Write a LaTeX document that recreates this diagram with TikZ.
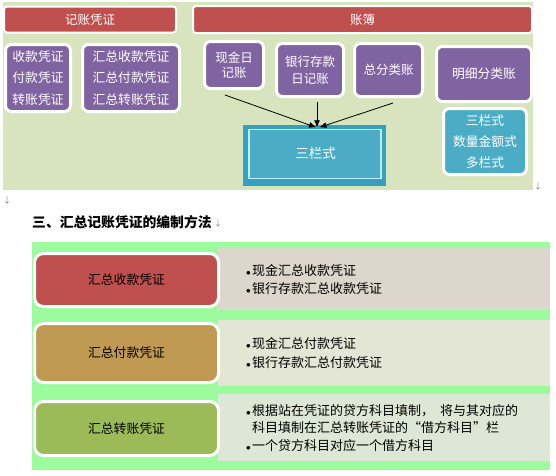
\documentclass[tikz,border=0pt]{standalone}
\usepackage{fontspec}
\setmainfont{Noto Sans CJK SC}
\usetikzlibrary{arrows.meta}
\definecolor{topbg}{HTML}{D7E4BD}
\definecolor{hred}{HTML}{C0504D}
\definecolor{purp}{HTML}{8064A2}
\definecolor{cyanb}{HTML}{4BACC6}
\definecolor{tealdk}{HTML}{36A1BE}
\definecolor{innerln}{HTML}{C4ECF3}
\definecolor{botbg}{HTML}{9CFB9C}
\definecolor{pan1}{HTML}{DDD6CC}
\definecolor{pan2}{HTML}{E3E5D5}
\definecolor{pan3}{HTML}{DDE7D5}
\definecolor{gold}{HTML}{C09A52}
\definecolor{olive}{HTML}{9BBB59}
\definecolor{markgray}{HTML}{808080}
\newcommand\bul{\makebox[6pt][l]{$\scriptstyle\bullet$}}
\begin{document}
\begin{tikzpicture}[x=1pt,y=-1pt,
  hdr/.style={draw=white,line width=2pt,fill=hred,rounded corners=3pt,text=white,inner sep=0pt,font=\fontsize{12.5}{14}\selectfont},
  pbox/.style={draw=white,line width=3pt,fill=purp,rounded corners=6pt,text=white,align=center,inner sep=0pt},
  cbox/.style={pbox,fill=cyanb},
  lbox/.style={draw=white,line width=3pt,rounded corners=9pt,text=black,inner sep=0pt,minimum width=184pt,font=\fontsize{12.8}{15}\selectfont},
  ptext/.style={anchor=base west,inner sep=0pt,font=\fontsize{13}{15}\selectfont},
  arr/.style={-{Latex[length=7pt,width=6pt]},line width=0.8pt},
  pmark/.style={text=markgray,inner sep=0pt,font=\fontsize{8}{9}\selectfont}
]
\useasboundingbox (0,0) rectangle (556,475);
% top panel
\fill[topbg] (3,2) rectangle (533,190);
\node[hdr,minimum width=172pt,minimum height=26pt] (h1) at (90,19.5) {记账凭证};
\node[hdr,minimum width=339pt,minimum height=27pt] (h2) at (362.5,19.5) {账簿};
\node[pbox,minimum width=65pt,minimum height=67pt,font=\fontsize{12.8}{21.5}\selectfont] (p1) at (38,78) {收款凭证\\付款凭证\\转账凭证};
\node[pbox,minimum width=97pt,minimum height=67pt,font=\fontsize{12.8}{21.5}\selectfont] (p2) at (131,78) {汇总收款凭证\\汇总付款凭证\\汇总转账凭证};
\node[pbox,minimum width=59pt,minimum height=47pt,font=\fontsize{12.5}{15.5}\selectfont] (xj) at (234,65) {现金日\\记账};
\node[pbox,minimum width=67pt,minimum height=53pt,font=\fontsize{12.5}{17}\selectfont] (yh) at (310,70) {银行存款\\日记账};
\node[pbox,minimum width=68pt,minimum height=53pt,font=\fontsize{12.5}{15}\selectfont] (zf) at (388.5,70) {总分类账};
\node[pbox,minimum width=95pt,minimum height=55pt,font=\fontsize{12.8}{15}\selectfont] (mx) at (484,74) {明细分类账};
\node[cbox,minimum width=83pt,minimum height=66pt,font=\fontsize{12.8}{21}\selectfont] (cy) at (485,141.5) {三栏式\\数量金额式\\多栏式};
\node[fill=tealdk,minimum width=143pt,minimum height=61pt,inner sep=0pt] (sl) at (314.5,155) {};
\draw[innerln,line width=1.5pt,fill=cyanb] ([shift={(6,5)}]sl.north west) rectangle ([shift={(-5,-7)}]sl.south east);
\node[text=white,inner sep=0pt,font=\fontsize{13.5}{15}\selectfont] (slt) at (315.5,153) {三栏式};
\draw[arr] ([shift={(-9,5)}]xj.south) -- ([shift={(1.5,3)}]sl.north);
\draw[arr] ([shift={(7,4)}]yh.south) -- ([shift={(2.5,3)}]sl.north);
\draw[arr] ([shift={(4.5,5)}]zf.south) -- ([shift={(5,3)}]sl.north);
\node[pmark] (m1) at (538,186) {↓};
\node[pmark] (m2) at (7,200) {↓};
% title
\node[anchor=base west,inner sep=0pt,font=\fontsize{13.8}{16}\selectfont\bfseries] (title) at (32,227) {三、汇总记账凭证的编制方法};
\node[pmark] (m3) at (218,223) {↓};
% bottom panel
\fill[botbg] (32,242) rectangle (550,470);
\fill[pan1] (218,248) rectangle (550,310);
\fill[pan2] (218,320) rectangle (550,386);
\fill[pan3] (218,394) rectangle (550,461);
\node[lbox,fill=hred,minimum height=53pt] (b1) at (126.5,280) {汇总收款凭证};
\node[lbox,fill=gold,minimum height=59pt] (b2) at (126.5,353) {汇总付款凭证};
\node[lbox,fill=olive,minimum height=54pt] (b3) at (126.5,428.5) {汇总转账凭证};
\node[ptext] (t11) at (246,275) {\bul 现金汇总收款凭证};
\node[ptext] (t12) at (246,293) {\bul 银行存款汇总收款凭证};
\node[ptext] (t21) at (246,348) {\bul 现金汇总付款凭证};
\node[ptext] (t22) at (246,367) {\bul 银行存款汇总付款凭证};
\node[ptext] (t31) at (246,415) {\bul 根据站在凭证的贷方科目填制，\hspace{6pt}将与其对应的};
\node[ptext] (t32) at (252,432) {科目填制在汇总转账凭证的“借方科目”栏};
\node[ptext] (t33) at (246,450) {\bul 一个贷方科目对应一个借方科目};
\end{tikzpicture}
\end{document}
